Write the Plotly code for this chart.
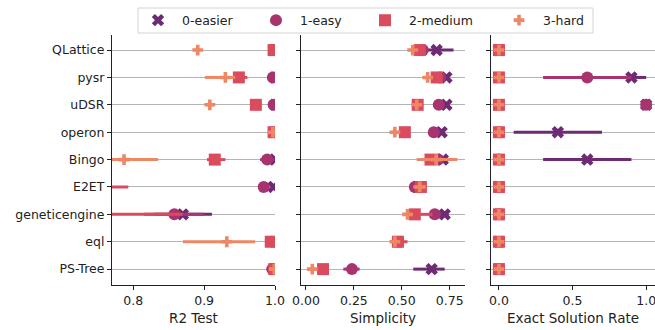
import plotly.graph_objects as go

methods = ["QLattice", "pysr", "uDSR", "operon", "Bingo", "E2ET",
           "geneticengine", "eql", "PS-Tree"]
levels = ["0-easier", "1-easy", "2-medium", "3-hard"]

# ---- R2 Test: mean, low, high per level ----
r2_mean = {
    "0-easier": [1.0, 1.0, 1.0, 1.0, 1.0, 0.998, 0.870, 1.0, 1.0],
    "1-easy":   [1.0, 0.997, 0.998, 1.0, 0.989, 0.984, 0.858, 1.0, 0.996],
    "2-medium": [0.998, 0.949, 0.973, 0.998, 0.915, 0.70, 0.70, 0.994, 0.999],
    "3-hard":   [0.891, 0.930, 0.908, 0.997, 0.787, 0.55, 0.50, 0.932, 0.999],
}
r2_lo = {
    "0-easier": [1.0, 1.0, 1.0, 1.0, 1.0, 0.997, 0.830, 1.0, 1.0],
    "1-easy":   [1.0, 0.995, 0.997, 1.0, 0.979, 0.982, 0.815, 1.0, 0.994],
    "2-medium": [0.997, 0.941, 0.972, 0.997, 0.904, 0.62, 0.60, 0.992, 0.998],
    "3-hard":   [0.888, 0.901, 0.904, 0.996, 0.760, 0.45, 0.40, 0.870, 0.998],
}
r2_hi = {
    "0-easier": [1.0, 1.0, 1.0, 1.0, 1.0, 0.999, 0.911, 1.0, 1.0],
    "1-easy":   [1.0, 0.999, 0.999, 1.0, 0.999, 0.986, 0.900, 1.0, 0.998],
    "2-medium": [0.999, 0.961, 0.974, 0.999, 0.930, 0.793, 0.870, 0.996, 1.0],
    "3-hard":   [0.894, 0.944, 0.912, 0.998, 0.835, 0.65, 0.60, 0.972, 1.0],
}

# ---- Simplicity ----
simp_mean = {
    "0-easier": [0.682, 0.733, 0.733, 0.708, 0.714, 0.58, 0.724, 0.48, 0.656],
    "1-easy":   [0.610, 0.700, 0.693, 0.667, 0.690, 0.568, 0.672, 0.48, 0.240],
    "2-medium": [0.594, 0.682, 0.583, 0.516, 0.650, 0.600, 0.568, 0.48, 0.089],
    "3-hard":   [0.557, 0.635, 0.578, 0.464, 0.680, 0.594, 0.530, 0.464, 0.033],
}
simp_lo = {
    "0-easier": [0.600, 0.725, 0.725, 0.700, 0.700, 0.57, 0.700, 0.47, 0.560],
    "1-easy":   [0.580, 0.690, 0.685, 0.660, 0.680, 0.550, 0.660, 0.47, 0.195],
    "2-medium": [0.560, 0.660, 0.575, 0.505, 0.610, 0.585, 0.530, 0.46, 0.075],
    "3-hard":   [0.545, 0.625, 0.570, 0.450, 0.578, 0.560, 0.520, 0.455, 0.020],
}
simp_hi = {
    "0-easier": [0.770, 0.740, 0.740, 0.716, 0.730, 0.59, 0.745, 0.49, 0.724],
    "1-easy":   [0.640, 0.710, 0.700, 0.675, 0.700, 0.590, 0.690, 0.49, 0.280],
    "2-medium": [0.620, 0.710, 0.590, 0.525, 0.690, 0.615, 0.660, 0.53, 0.100],
    "3-hard":   [0.570, 0.645, 0.585, 0.480, 0.790, 0.625, 0.550, 0.475, 0.050],
}

# ---- Exact Solution Rate ----
exact_mean = {
    "0-easier": [0.0, 0.9, 1.0, 0.4, 0.6, 0.0, 0.0, 0.0, 0.0],
    "1-easy":   [0.0, 0.6, 1.0, 0.0, 0.0, 0.0, 0.0, 0.0, 0.0],
    "2-medium": [0.0, 0.0, 0.0, 0.0, 0.0, 0.0, 0.0, 0.0, 0.0],
    "3-hard":   [0.0, 0.0, 0.0, 0.0, 0.0, 0.0, 0.0, 0.0, 0.0],
}
exact_lo = {
    "0-easier": [0.0, 0.8, 1.0, 0.1, 0.3, 0.0, 0.0, 0.0, 0.0],
    "1-easy":   [0.0, 0.3, 1.0, 0.0, 0.0, 0.0, 0.0, 0.0, 0.0],
    "2-medium": [0.0] * 9,
    "3-hard":   [0.0] * 9,
}
exact_hi = {
    "0-easier": [0.0, 1.0, 1.0, 0.7, 0.9, 0.0, 0.0, 0.0, 0.0],
    "1-easy":   [0.0, 0.9, 1.0, 0.0, 0.0, 0.0, 0.0, 0.0, 0.0],
    "2-medium": [0.0] * 9,
    "3-hard":   [0.0] * 9,
}

colors = {"0-easier": "#6f2a74", "1-easy": "#a8346f",
          "2-medium": "#db4b5e", "3-hard": "#ee8763"}
symbols = {"0-easier": "x", "1-easy": "circle",
           "2-medium": "square", "3-hard": "cross"}
sizes = {"0-easier": 11, "1-easy": 12, "2-medium": 12, "3-hard": 9}

H = 330
W = 655

# legend symbol x-positions (px) of the reference legend columns
legend_ids = {"0-easier": "legend", "1-easy": "legend2",
              "2-medium": "legend3", "3-hard": "legend4"}
legend_sym_px = {"0-easier": 158, "1-easy": 276,
                 "2-medium": 385, "3-hard": 519}

panels = [
    ("x", "y", r2_mean, r2_lo, r2_hi),
    ("x2", "y2", simp_mean, simp_lo, simp_hi),
    ("x3", "y3", exact_mean, exact_lo, exact_hi),
]

fig = go.Figure()
for pi, (xa, ya, mean, lo, hi) in enumerate(panels):
    for lv in levels:
        m = mean[lv]
        plus = [h - v for h, v in zip(hi[lv], m)]
        minus = [v - l for v, l in zip(m, lo[lv])]
        fig.add_trace(go.Scatter(
            x=m, y=methods, xaxis=xa, yaxis=ya,
            mode="markers", name=lv, showlegend=(pi == 0),
            legend=legend_ids[lv], legendgroup=lv,
            marker=dict(symbol=symbols[lv], size=sizes[lv], color=colors[lv],
                        line=dict(width=0)),
            error_x=dict(type="data", array=plus, arrayminus=minus,
                         symmetric=False, thickness=3, width=0,
                         color=colors[lv]),
        ))

font = dict(family="DejaVu Sans", size=12.5, color="#222")
title_font = dict(family="DejaVu Sans", size=13.5, color="#222")
axis_common = dict(showline=True, linecolor="#222", linewidth=1.2,
                   ticks="outside", ticklen=4, tickcolor="#222",
                   showgrid=False, zeroline=False, tickfont=font,
                   automargin=False, ticklabeloverflow="allow")

ydom = [1 - 285 / H, 1 - 35 / H]

legend_layouts = {}
for lv in levels:
    legend_layouts[legend_ids[lv]] = dict(
        orientation="h", x=(legend_sym_px[lv] - 24) / W, xanchor="left",
        y=1 - 20.5 / H, yanchor="middle", borderwidth=0,
        bgcolor="rgba(0,0,0,0)", itemwidth=38,
        font=dict(family="DejaVu Sans", size=12.5, color="#222"),
        itemsizing="trace")

fig.update_layout(
    template="none",
    width=W, height=H,
    margin=dict(l=0, r=0, t=0, b=0, pad=0),
    paper_bgcolor="white", plot_bgcolor="white",
    font=font,
    showlegend=True,
    xaxis=dict(domain=[112 / W, 275 / W], range=[0.77, 1.0],
               tickvals=[0.8, 0.9, 1.0], ticktext=["0.8", "0.9", "1.0"],
               title=dict(text="R2 Test", font=title_font, standoff=6),
               anchor="y", **axis_common),
    xaxis2=dict(domain=[301 / W, 465 / W], range=[-0.026, 0.83],
                tickvals=[0, 0.25, 0.5, 0.75],
                ticktext=["0.00", "0.25", "0.50", "0.75"],
                title=dict(text="Simplicity", font=title_font, standoff=6),
                anchor="y2", **axis_common),
    xaxis3=dict(domain=[491 / W, 1.0], range=[-0.054, 1.06],
                tickvals=[0, 0.5, 1.0], ticktext=["0.0", "0.5", "1.0"],
                title=dict(text="Exact Solution Rate", font=title_font, standoff=6),
                anchor="y3", **axis_common),
    shapes=[dict(type="rect", xref="paper", yref="paper",
                 x0=138 / W, x1=593 / W, y0=1 - 33 / H, y1=1 - 8 / H,
                 line=dict(color="#d4d4d4", width=1), fillcolor="white",
                 layer="below")],
    **legend_layouts,
)

yax = dict(domain=ydom, type="category", categoryorder="array",
           categoryarray=methods, range=[8.58, -0.55],
           showline=True, linecolor="#222", linewidth=1.2,
           ticks="outside", ticklen=4, tickcolor="#222",
           showgrid=True, gridcolor="#b4b4b4", gridwidth=1.1,
           zeroline=False, tickfont=font, automargin=False)
fig.update_layout(
    yaxis=dict(anchor="x", **yax),
    yaxis2=dict(anchor="x2", showticklabels=False, **yax),
    yaxis3=dict(anchor="x3", showticklabels=False, **yax),
)

fig.write_html(
    "out.html",
    config={"displayModeBar": False},
    post_script="document.body.style.margin='0';"
                "document.body.style.overflow='hidden';",
)
